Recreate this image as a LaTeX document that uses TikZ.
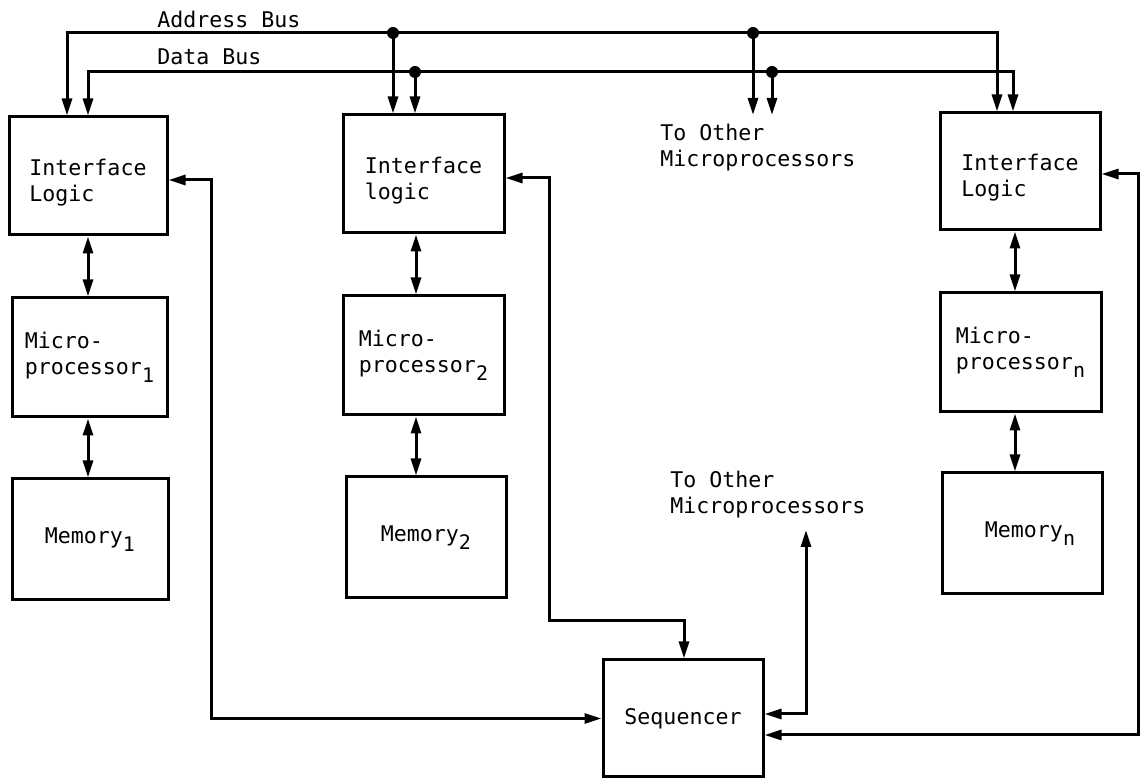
\documentclass[tikz,border=0pt]{standalone}
\usepackage{fontspec}
\newfontfamily\tw{DejaVu Sans Mono}
\usetikzlibrary{arrows.meta}
\newcommand{\sbs}[1]{\raisebox{-0.7ex}{\fontsize{10pt}{10pt}\selectfont #1}}
\begin{document}
\begin{tikzpicture}[x=0.5pt,y=-0.5pt,
  txt/.style={font=\tw\fontsize{10.8pt}{13pt}\selectfont},
  blk/.style={txt,draw,line width=1.5pt,align=left,inner sep=0pt},
  lbl/.style={txt,inner sep=0pt,align=left},
  wire/.style={line width=1.5pt},
  ar/.style={wire,-{Triangle[length=8.5pt,width=5pt]}},
  dar/.style={wire,{Triangle[length=8.5pt,width=5pt]}-{Triangle[length=8.5pt,width=5pt]}},
  jdot/.style={fill=black}]
\useasboundingbox (0,0) rectangle (1141,779);
% boxes
\node[blk,minimum width=79pt,minimum height=59pt] (IL1) at (88,176) {\rule{0pt}{14.5pt}Interface\\Logic};
\node[blk,minimum width=77.5pt,minimum height=59.5pt] (MP1) at (89.5,357.5) {Micro-\\processor\sbs{1}};
\node[blk,minimum width=78pt,minimum height=60.5pt] (M1) at (90,539.5) {Memory\sbs{1}};
\node[blk,minimum width=80.5pt,minimum height=59pt] (IL2) at (423.5,174) {\rule{0pt}{14.5pt}Interface\\logic};
\node[blk,minimum width=80.5pt,minimum height=59.5pt] (MP2) at (423.5,355.5) {Micro-\\processor\sbs{2}};
\node[blk,minimum width=80pt,minimum height=60.5pt] (M2) at (426,537.5) {Memory\sbs{2}};
\node[blk,minimum width=80pt,minimum height=58.5pt] (IL3) at (1020,171.5) {\rule{0pt}{14.5pt}Interface\\Logic};
\node[blk,minimum width=80.5pt,minimum height=59.5pt] (MP3) at (1020.5,352.5) {Micro-\\processor\sbs{n}};
\node[blk,minimum width=80pt,minimum height=60.5pt] (M3) at (1022,533.5) {\hspace*{8pt}Memory\sbs{n}};
\node[blk,minimum width=80pt,minimum height=58.5pt] (SQ) at (683,718.5) {Sequencer};
% labels
\node[lbl,anchor=base west] (abl) at (157,28) {Address Bus};
\node[lbl,anchor=base west] (dbl) at (157,65) {Data Bus};
\node[lbl,anchor=north west] (to1) at (660,124) {To Other\\Microprocessors};
\node[lbl,anchor=north west] (to2) at (670,471) {To Other\\Microprocessors};
% bus coordinates
\coordinate (abL) at (67,33); \coordinate (abR) at (997,33);
\coordinate (dbL) at (88,72); \coordinate (dbR) at (1013,72);
\coordinate (ab2) at (393,33); \coordinate (ab3) at (753,33);
\coordinate (db2) at (415,72); \coordinate (db3) at (772,72);
\coordinate (oa) at (753,115); \coordinate (od) at (772,115);
\draw[dar] (IL1.north -| abL) -- (abL) -- (abR) -- (IL3.north -| abR);
\draw[dar] (IL1.north -| dbL) -- (dbL) -- (dbR) -- (IL3.north -| dbR);
\draw[ar] (ab2) -- (IL2.north -| ab2);
\draw[ar] (db2) -- (IL2.north -| db2);
\draw[ar] (ab3) -- (oa);
\draw[ar] (db3) -- (od);
\foreach \p in {ab2,ab3,db2,db3} \fill[jdot] (\p) circle (3pt);
% column links
\coordinate (c1) at (88,0); \coordinate (c2) at (416,0); \coordinate (c3) at (1015,0);
\draw[dar] (IL1.south -| c1) -- (MP1.north -| c1);
\draw[dar] (MP1.south -| c1) -- (M1.north -| c1);
\draw[dar] (IL2.south -| c2) -- (MP2.north -| c2);
\draw[dar] (MP2.south -| c2) -- (M2.north -| c2);
\draw[dar] (IL3.south -| c3) -- (MP3.north -| c3);
\draw[dar] (MP3.south -| c3) -- (M3.north -| c3);
% sequencer links
\coordinate (f1a) at (211,180);
\draw[dar] (IL1.east |- f1a) -- (f1a) -- (f1a |- SQ.west) -- (SQ.west);
\coordinate (f2a) at (549,178); \coordinate (f2b) at (684,621);
\draw[dar] (IL2.east |- f2a) -- (f2a) -- (f2a |- f2b) -- (f2b) -- (SQ.north -| f2b);
\coordinate (f3a) at (1138,174); \coordinate (f3b) at (1138,735);
\draw[dar] (IL3.east |- f3a) -- (f3a) -- (f3b) -- (SQ.east |- f3b);
\coordinate (tc) at (806,714); \coordinate (tu) at (806,530);
\draw[dar] (SQ.east |- tc) -- (tc) -- (tu);
\end{tikzpicture}
\end{document}
